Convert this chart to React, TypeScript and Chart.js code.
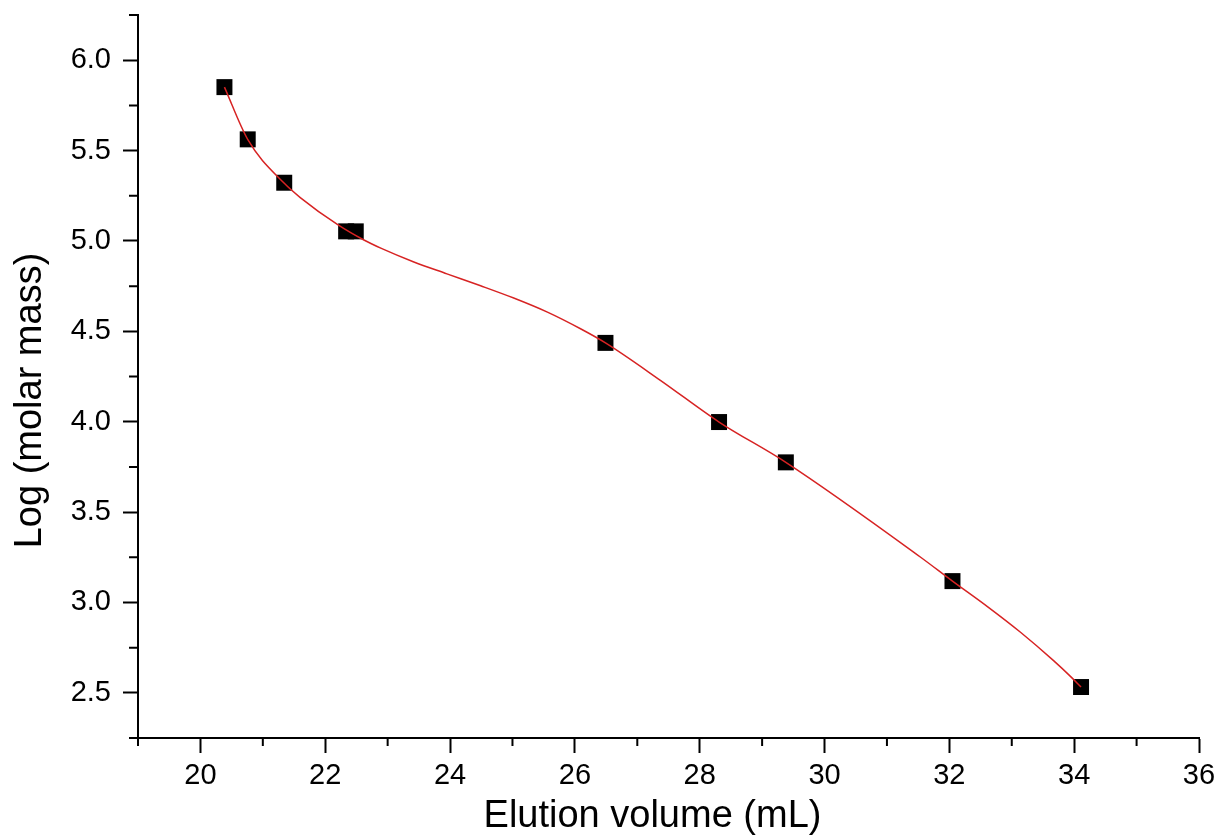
import React, { useEffect, useRef } from "react";
import { Chart, registerables } from "chart.js";

Chart.register(...registerables);

// Measured points (elution volume in mL, log of molar mass)
const elutionVolume = [20.385, 20.758, 21.343, 22.335, 22.489, 26.49, 28.31, 29.38, 32.05, 34.11];
const logMolarMass = [5.851, 5.562, 5.322, 5.053, 5.053, 4.436, 3.998, 3.775, 3.118, 2.532];

// Fitted calibration curve
const fitX = [20.385, 20.76, 21.34, 21.6, 22.2, 22.62, 22.89, 23.41, 23.95, 24.49, 25.02, 25.56, 26.09, 26.49, 27.37, 28.31, 29.38, 31.54, 32.05, 32.61, 33.14, 33.67, 33.94, 34.11];
const fitY = [5.851, 5.56, 5.32, 5.24, 5.09, 5.005, 4.96, 4.885, 4.818, 4.752, 4.684, 4.606, 4.514, 4.436, 4.229, 3.998, 3.775, 3.25, 3.118, 2.977, 2.835, 2.678, 2.591, 2.532];

// Axis ticks
const xMajorTicks = [20, 22, 24, 26, 28, 30, 32, 34, 36];
const xMinorTicks = [19, 21, 23, 25, 27, 29, 31, 33, 35];
const yMajorTicks = [2.5, 3.0, 3.5, 4.0, 4.5, 5.0, 5.5, 6.0];
const yMinorTicks = [2.25, 2.75, 3.25, 3.75, 4.25, 4.75, 5.25, 5.75, 6.25];

const xTitle = "Elution volume (mL)";
const yTitle = "Log (molar mass)";

const FONT = "'Liberation Sans', Arial, Helvetica, sans-serif";

const minorTickPlugin = {
  id: "minorTicks",
  afterDraw(chart: any) {
    const { ctx, scales } = chart;
    const x = scales.x;
    const y = scales.y;
    ctx.save();
    ctx.strokeStyle = "#000";
    ctx.lineWidth = 2;
    ctx.beginPath();
    xMinorTicks.forEach((v) => {
      const px = x.getPixelForValue(v);
      ctx.moveTo(px, x.top);
      ctx.lineTo(px, x.top + 8);
    });
    yMinorTicks.forEach((v) => {
      const py = y.getPixelForValue(v);
      ctx.moveTo(y.right - 9, py);
      ctx.lineTo(y.right, py);
    });
    ctx.stroke();
    ctx.restore();
  },
};

const axisTitlePlugin = {
  id: "axisTitles",
  afterDraw(chart: any) {
    const { ctx, chartArea } = chart;
    ctx.save();
    ctx.fillStyle = "#000";
    ctx.font = `38px ${FONT}`;
    ctx.textAlign = "center";
    ctx.textBaseline = "middle";
    const cx = (chartArea.left + chartArea.right) / 2 - 16;
    ctx.fillText(xTitle, cx, chart.height - 22);
    const cy = (chartArea.top + chartArea.bottom) / 2 + 24;
    ctx.translate(31, cy);
    ctx.rotate(-Math.PI / 2);
    ctx.fillText(yTitle, 0, 0);
    ctx.restore();
  },
};

export default function App() {
  const canvasRef = useRef<HTMLCanvasElement | null>(null);

  useEffect(() => {
    if (!canvasRef.current) return;
    const chart = new Chart(canvasRef.current, {
      type: "scatter",
      data: {
        datasets: [
          {
            label: "Fit",
            data: fitX.map((v, i) => ({ x: v, y: fitY[i] })),
            showLine: true,
            borderColor: "rgb(215,35,35)",
            borderWidth: 1.5,
            pointRadius: 0,
            cubicInterpolationMode: "monotone",
            order: 0,
          },
          {
            label: "Data",
            data: elutionVolume.map((v, i) => ({ x: v, y: logMolarMass[i] })),
            showLine: false,
            pointStyle: "rect",
            pointRadius: 11.3,
            pointBorderWidth: 0,
            backgroundColor: "#000",
            borderColor: "#000",
            order: 1,
          },
        ],
      },
      options: {
        animation: false,
        responsive: true,
        maintainAspectRatio: false,
        layout: { padding: { left: 0, right: 19, top: 15, bottom: 0 } },
        plugins: {
          legend: { display: false },
          tooltip: { enabled: false },
        },
        scales: {
          x: {
            type: "linear",
            min: 19,
            max: 36,
            afterBuildTicks: (scale: any) => {
              scale.ticks = xMajorTicks.map((v) => ({ value: v }));
            },
            afterFit: (scale: any) => {
              scale.height = 101;
              scale.paddingLeft = 0;
              scale.paddingRight = 0;
            },
            border: { display: true, color: "#000", width: 2 },
            grid: {
              drawOnChartArea: false,
              drawTicks: true,
              tickLength: 15,
              tickWidth: 2,
              tickColor: "#000",
            },
            ticks: {
              color: "#000",
              padding: 6,
              maxRotation: 0,
              font: { family: FONT, size: 29 },
              callback: (v: any) => String(v),
            },
            title: { display: false },
          },
          y: {
            type: "linear",
            min: 2.25,
            max: 6.25,
            afterBuildTicks: (scale: any) => {
              scale.ticks = yMajorTicks.map((v) => ({ value: v }));
            },
            afterFit: (scale: any) => {
              scale.width = 138;
              scale.paddingTop = 0;
              scale.paddingBottom = 0;
            },
            border: { display: true, color: "#000", width: 2 },
            grid: {
              drawOnChartArea: false,
              drawTicks: true,
              tickLength: 15,
              tickWidth: 2,
              tickColor: "#000",
            },
            ticks: {
              color: "#000",
              padding: 12,
              font: { family: FONT, size: 29 },
              callback: (v: any) => Number(v).toFixed(1),
            },
            title: { display: false },
          },
        },
      },
      plugins: [minorTickPlugin, axisTitlePlugin],
    });
    return () => chart.destroy();
  }, []);

  return (
    <div
      style={{
        position: "fixed",
        left: 0,
        top: 0,
        width: 1218,
        height: 839,
        background: "#fff",
      }}
    >
      <canvas ref={canvasRef} />
    </div>
  );
}
